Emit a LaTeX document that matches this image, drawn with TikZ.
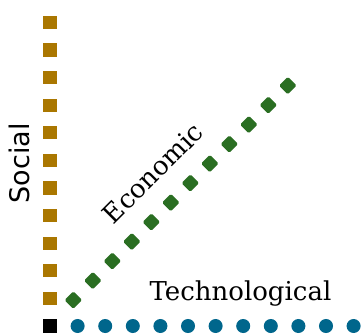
\documentclass[tikz,border=0pt]{standalone}
\usepackage{fontspec}
\setmainfont{DejaVu Serif}
\setsansfont{DejaVu Sans}
\usetikzlibrary{positioning}
\definecolor{socialbrown}{RGB}{170,119,0}
\definecolor{econgreen}{RGB}{42,110,34}
\definecolor{techblue}{RGB}{0,102,140}

\begin{document}
\begin{tikzpicture}[
        x=27.6pt, y=27.6pt,
        originmark/.style={fill=black},
        sqmark/.style={fill=socialbrown},
        dotmark/.style={fill=techblue},
        diamark/.style={fill=econgreen, rounded corners=1.5pt},
        axislabel/.style={font=\fontsize{26}{30}\selectfont, inner sep=0pt}
    ]
        \useasboundingbox (-1.812,-0.254) rectangle (11.268,11.812);

        % Origin
        \fill[originmark] (-0.241,-0.241) rectangle (0.241,0.241);

        % Social axis
        \foreach \k in {1,...,11}
            \fill[sqmark] (-0.241,{\k-0.241}) rectangle (0.241,{\k+0.241});

        % Technological axis
        \foreach \k in {1,...,11}
            \fill[dotmark] (\k,0) circle (0.254);

        % Economic axis
        \foreach \k in {0,...,11}
            \fill[diamark, shift={({0.845+0.7065*\k},{0.94+0.7065*\k})}]
                (0,-0.32) -- (0.32,0) -- (0,0.32) -- (-0.32,0) -- cycle;

        % Labels
        \node[axislabel, anchor=base] (tech) at (6.9,0.94) {Technological};
        \node[axislabel, font=\sffamily\fontsize{27}{30}\selectfont, rotate=90, anchor=base] (social) at (-0.725,5.9) {Social};
        \node[axislabel, rotate=45] (econ) at (3.73,5.54) {Economic};

    \end{tikzpicture}
\end{document}
